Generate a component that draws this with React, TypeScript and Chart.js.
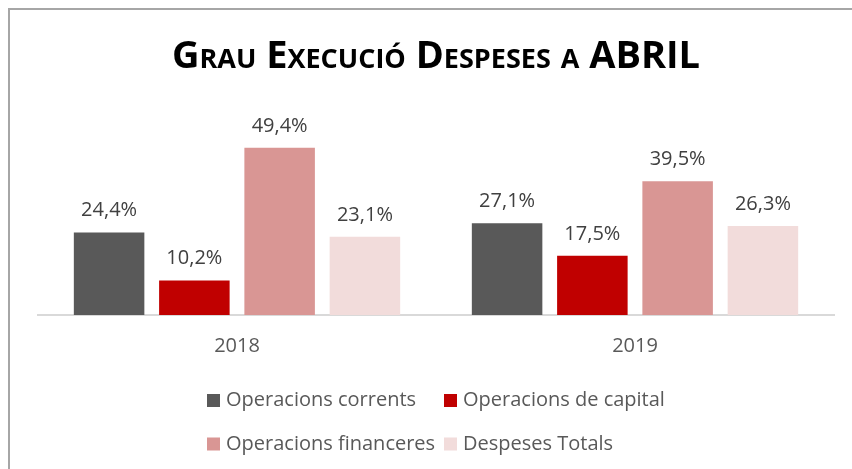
import React, { useEffect, useRef } from "react";
import { Chart, registerables } from "chart.js";

Chart.register(...registerables);

const titleText = "Grau Execució Despeses a ABRIL";
const categories = ["2018", "2019"];
const seriesNames = [
  "Operacions corrents",
  "Operacions de capital",
  "Operacions financeres",
  "Despeses Totals",
];
const operacionsCorrents = [24.4, 27.1];
const operacionsCapital = [10.2, 17.5];
const operacionsFinanceres = [49.4, 39.5];
const despesesTotals = [23.1, 26.3];
const seriesColors = ["#595959", "#C00000", "#D99694", "#F2DCDB"];

const FONT = "'Open Sans', 'DejaVu Sans', sans-serif";

const framePlugin = {
  id: "frame",
  beforeDraw(chart: any) {
    const ctx = chart.ctx;
    ctx.save();
    ctx.fillStyle = "#ffffff";
    ctx.fillRect(0, 0, chart.width, chart.height);
    ctx.strokeStyle = "#a6a6a6";
    ctx.lineWidth = 2;
    ctx.strokeRect(9, 9, 900, 500);
    ctx.restore();
  },
};

const titlePlugin = {
  id: "smallCapsTitle",
  afterDraw(chart: any) {
    const ctx = chart.ctx;
    ctx.save();
    ctx.font = `small-caps bold 38px ${FONT}`;
    try {
      (ctx as any).fontVariantCaps = "small-caps";
    } catch (e) {}
    ctx.fillStyle = "#000000";
    ctx.textAlign = "center";
    ctx.textBaseline = "alphabetic";
    ctx.fillText(titleText, 436, 68);
    ctx.restore();
  },
};

const valueLabelPlugin = {
  id: "valueLabels",
  afterDatasetsDraw(chart: any) {
    const ctx = chart.ctx;
    ctx.save();
    ctx.font = `20px ${FONT}`;
    ctx.fillStyle = "#404040";
    ctx.textAlign = "center";
    ctx.textBaseline = "alphabetic";
    chart.data.datasets.forEach((ds: any, i: number) => {
      const meta = chart.getDatasetMeta(i);
      meta.data.forEach((el: any, j: number) => {
        const v = ds.data[j] as number;
        ctx.fillText(v.toFixed(1).replace(".", ",") + "%", el.x, el.y - 16);
      });
    });
    ctx.restore();
  },
};

const legendPlugin = {
  id: "gridLegend",
  afterDraw(chart: any) {
    const ctx = chart.ctx;
    const colX = [207, 444];
    const rowY = [400.5, 444];
    ctx.save();
    ctx.font = `20px ${FONT}`;
    ctx.textAlign = "left";
    ctx.textBaseline = "middle";
    chart.data.datasets.forEach((ds: any, i: number) => {
      const x = colX[i % 2];
      const y = rowY[Math.floor(i / 2)];
      ctx.fillStyle = ds.backgroundColor;
      ctx.fillRect(x, y - 6.5, 13, 13);
      ctx.fillStyle = "#595959";
      ctx.fillText(ds.label, x + 19, y);
    });
    ctx.restore();
  },
};

export default function App() {
  const canvasRef = useRef<HTMLCanvasElement | null>(null);

  useEffect(() => {
    if (!canvasRef.current) return;
    const series = [operacionsCorrents, operacionsCapital, operacionsFinanceres, despesesTotals];
    const chart = new Chart(canvasRef.current, {
      type: "bar",
      data: {
        labels: categories,
        datasets: series.map((data, i) => ({
          label: seriesNames[i],
          data,
          backgroundColor: seriesColors[i],
          borderWidth: 0,
          categoryPercentage: 0.857,
          barPercentage: 0.827,
        })),
      },
      options: {
        responsive: false,
        animation: false,
        layout: { padding: { left: 38, right: 18, top: 112, bottom: 92 } },
        plugins: {
          legend: { display: false },
          title: { display: false },
          tooltip: { enabled: false },
        },
        scales: {
          x: {
            grid: { display: false, drawTicks: false },
            border: { display: true, color: "#d9d9d9", width: 2 },
            ticks: {
              color: "#595959",
              font: { family: FONT, size: 20 },
              padding: 19,
            },
          },
          y: {
            display: false,
            min: 0,
            max: 60,
          },
        },
      },
      plugins: [framePlugin, valueLabelPlugin, titlePlugin, legendPlugin],
    });
    return () => chart.destroy();
  }, []);

  return (
    <canvas
      ref={canvasRef}
      width={852}
      height={469}
      style={{ position: "fixed", left: 0, top: 0, width: 852, height: 469 }}
    />
  );
}
